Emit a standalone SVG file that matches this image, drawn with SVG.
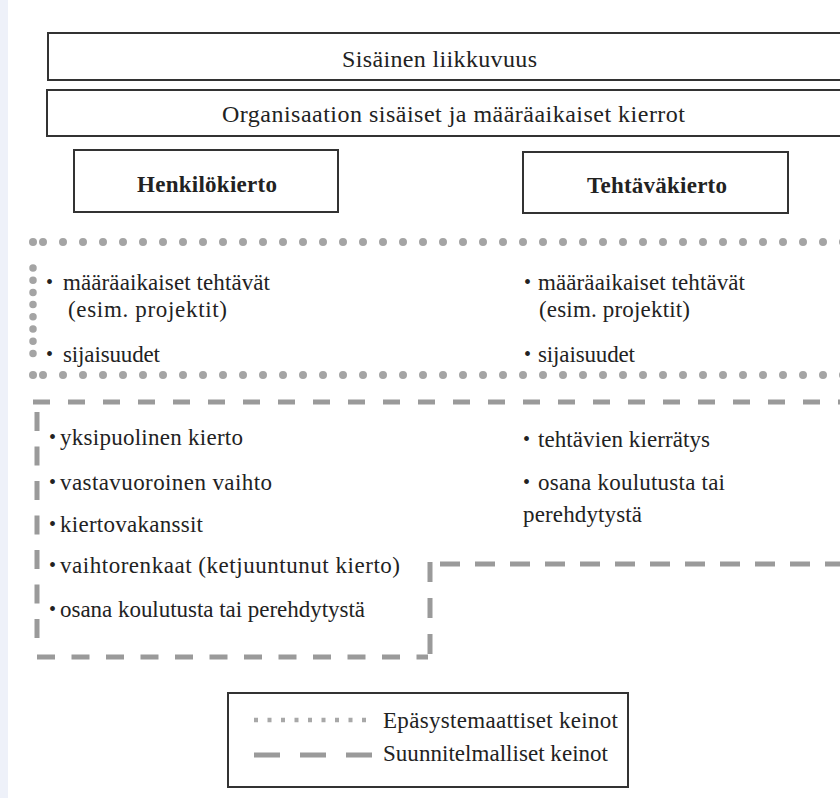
<svg xmlns="http://www.w3.org/2000/svg" width="840" height="798" viewBox="0 0 840 798">
<style>
  text { font-family: "Liberation Serif", "Times New Roman", serif; font-size: 23px; fill: #222; }
  .h { font-size: 24px; }
  .b { font-weight: bold; }
  .bul { font-size: 20px; }
  .box { fill: #fff; stroke: #333; stroke-width: 2; }
  .dot { fill: none; stroke: #a4a4a4; stroke-width: 8; stroke-linecap: round; stroke-dasharray: 0 20; }
  .dotv { fill: none; stroke: #a4a4a4; stroke-width: 7.5; stroke-linecap: round; stroke-dasharray: 0 12.2; }
  .dash { fill: none; stroke: #9a9a9a; stroke-width: 5; }
</style>
<rect x="0" y="0" width="840" height="798" fill="#fff"/>
<rect x="0" y="0" width="8" height="798" fill="#eef1f9"/>

<g id="sisainen">
  <rect class="box" x="48" y="33" width="800" height="47"/>
  <text class="h" x="342" y="67" textLength="195">Sisäinen liikkuvuus</text>
</g>
<g id="organisaatio">
  <rect class="box" x="47" y="90" width="800" height="46"/>
  <text class="h" x="222" y="122" textLength="463">Organisaation sisäiset ja määräaikaiset kierrot</text>
</g>
<g id="henkilokierto">
  <rect class="box" x="74" y="150" width="264" height="62"/>
  <text class="b" x="137" y="192" textLength="140">Henkilökierto</text>
</g>
<g id="tehtavakierto">
  <rect class="box" x="523" y="152" width="265" height="61"/>
  <text class="b" x="587" y="193" textLength="140">Tehtäväkierto</text>
</g>

<g id="connectors">
  <!-- dotted frame (epäsystemaattiset) -->
  <path class="dot" d="M43 242 H845"/>
  <path class="dot" d="M33 242 h1"/>
  <path class="dotv" d="M33 268 V360"/>
  <path class="dot" d="M43 375 H845"/>
  <path class="dot" d="M33 375 h1"/>
  <!-- dashed frame (suunnitelmalliset) -->
  <path class="dash" d="M33 402 H845" stroke-dasharray="17 18"/>
  <path class="dash" d="M37 412 V645" stroke-dasharray="19 15.5"/>
  <path class="dash" d="M37 657 H428" stroke-dasharray="18 16.5"/>
  <path class="dash" d="M430 562 V655" stroke-dasharray="20 16"/>
  <path class="dash" d="M440 564 H845" stroke-dasharray="20 15"/>
</g>

<g id="epasystemaattiset">
  <text class="bul" x="46" y="289">•</text>
  <text x="63" y="290" textLength="207">määräaikaiset tehtävät</text>
  <text x="68" y="317" textLength="159">(esim. projektit)</text>
  <text class="bul" x="46" y="361">•</text>
  <text x="63" y="362" textLength="97">sijaisuudet</text>

  <text class="bul" x="524" y="289">•</text>
  <text x="538" y="290" textLength="207">määräaikaiset tehtävät</text>
  <text x="539" y="317" textLength="151">(esim. projektit)</text>
  <text class="bul" x="524" y="361">•</text>
  <text x="538" y="362" textLength="97">sijaisuudet</text>
</g>

<g id="suunnitelmalliset">
  <text class="bul" x="49" y="444">•</text>
  <text x="60" y="445" textLength="183">yksipuolinen kierto</text>
  <text class="bul" x="49" y="489">•</text>
  <text x="60" y="490" textLength="212">vastavuoroinen vaihto</text>
  <text class="bul" x="49" y="531">•</text>
  <text x="60" y="532" textLength="143">kiertovakanssit</text>
  <text class="bul" x="49" y="572">•</text>
  <text x="60" y="573" textLength="340">vaihtorenkaat (ketjuuntunut kierto)</text>
  <text class="bul" x="49" y="616">•</text>
  <text x="60" y="617" textLength="305">osana koulutusta tai perehdytystä</text>

  <text class="bul" x="523" y="446">•</text>
  <text x="538" y="447" textLength="172">tehtävien kierrätys</text>
  <text class="bul" x="523" y="489">•</text>
  <text x="538" y="490" textLength="187">osana koulutusta tai</text>
  <text x="523" y="522" textLength="119">perehdytystä</text>
</g>

<g id="legend">
  <rect class="box" x="228" y="693" width="400" height="94"/>
  <path d="M254 720 H366" fill="none" stroke="#a8a8a8" stroke-width="4.5" stroke-dasharray="4 9.5"/>
  <path d="M254 755 H373" fill="none" stroke="#9a9a9a" stroke-width="5" stroke-dasharray="26 20"/>
  <text x="383" y="728" textLength="235">Epäsystemaattiset keinot</text>
  <text x="383" y="761" textLength="225">Suunnitelmalliset keinot</text>
</g>
</svg>
